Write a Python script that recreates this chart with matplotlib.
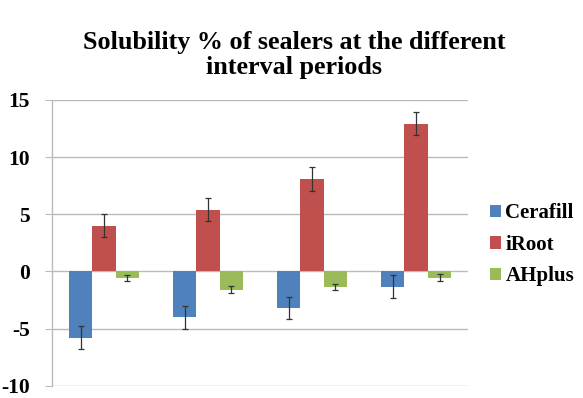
import matplotlib
matplotlib.use("Agg")
import matplotlib.pyplot as plt
import numpy as np

periods = ["Period 1", "Period 2", "Period 3", "Period 4"]
series_names = ["Cerafill", "iRoot", "AHplus"]
cerafill = [-5.8, -4.0, -3.2, -1.35]
iroot = [4.0, 5.4, 8.1, 12.9]
ahplus = [-0.6, -1.6, -1.35, -0.55]
cerafill_err = [1.0, 1.0, 1.0, 1.0]
iroot_err = [1.0, 1.0, 1.05, 1.0]
ahplus_err = [0.28, 0.3, 0.26, 0.3]
yticks = [-10, -5, 0, 5, 10, 15]

colors = ["#4F81BD", "#C0504D", "#9BBB59"]

plt.rcParams['font.family'] = ['Liberation Serif', 'DejaVu Serif']

fig = plt.figure(figsize=(5.83, 3.98), dpi=100)
ax = fig.add_axes([0.089, 0.031, 0.714, 0.718])

x = np.arange(len(periods))
w = 0.225
vals = [cerafill, iroot, ahplus]
errs = [cerafill_err, iroot_err, ahplus_err]
for i, (v, e) in enumerate(zip(vals, errs)):
    ax.bar(x + (i - 1) * w, v, w, color=colors[i], label=series_names[i],
           yerr=e, capsize=2.5, error_kw=dict(ecolor="#333333", elinewidth=0.9, capthick=0.9),
           zorder=3)

ax.set_xlim(-0.5, 3.5)
ax.set_ylim(-10, 15)
ax.set_yticks(yticks)
ax.set_yticklabels([str(t) for t in yticks], fontsize=15.5, fontweight='bold')
ax.set_xticks([])
ax.yaxis.grid(True, color="#BBBBBB", linewidth=1.0, zorder=0)
ax.set_axisbelow(True)
for s in ["top", "right", "bottom"]:
    ax.spines[s].set_visible(False)
ax.spines["left"].set_color("#BBBBBB")
ax.spines["left"].set_linewidth(1.0)
ax.tick_params(axis='y', length=5, color="#BBBBBB", pad=11)

fig.text(0.505, 0.862, "Solubility % of sealers at the different\ninterval periods",
         ha='center', va='center', fontsize=18.8, fontweight='bold', linespacing=1.12)

leg = fig.legend(loc='center left', bbox_to_anchor=(0.808, 0.385), frameon=False,
                 prop=dict(size=15, weight='bold'), handlelength=0.55, handleheight=0.55,
                 handletextpad=0.2, labelspacing=0.55)

fig.savefig("out.png", dpi=100)
